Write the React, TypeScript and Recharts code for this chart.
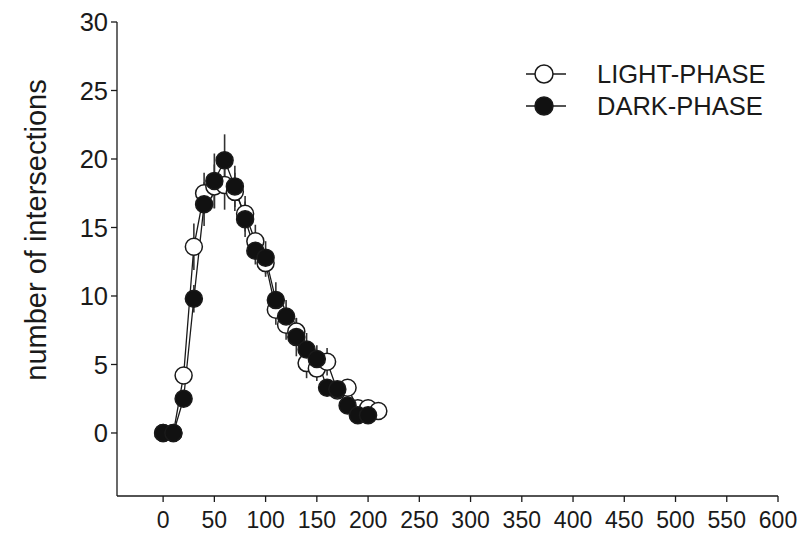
import { LineChart, Line, XAxis, YAxis, Legend, ErrorBar } from 'recharts';

// distance from soma (µm)
const distances = [0, 10, 20, 30, 40, 50, 60, 70, 80, 90, 100, 110, 120, 130, 140, 150, 160, 170, 180, 190, 200, 210];

const lightPhase = [0, 0, 4.2, 13.6, 17.5, 18.0, 18.1, 17.6, 16.0, 14.0, 12.4, 9.0, 7.9, 7.4, 5.1, 4.7, 5.2, 3.1, 3.3, 1.8, 1.8, 1.6];
const lightErr = [0, 0, 0.6, 1.7, 1.5, 1.6, 1.8, 1.4, 1.3, 1.2, 1.0, 1.1, 1.1, 1.0, 1.1, 0.9, 1.0, 0.6, 0.6, 0.4, 0.3, 0.3];

const darkPhase = [0, 0, 2.5, 9.8, 16.7, 18.4, 19.9, 18.0, 15.6, 13.3, 12.8, 9.7, 8.5, 7.0, 6.1, 5.4, 3.3, 3.2, 2.0, 1.3, 1.3];
const darkErr = [0, 0, 0.5, 1.0, 1.6, 2.0, 1.9, 1.5, 1.3, 1.0, 1.2, 1.3, 1.2, 1.4, 1.2, 1.0, 0.6, 0.5, 0.5, 0.4, 0.3];

const xTicks = [0, 50, 100, 150, 200, 250, 300, 350, 400, 450, 500, 550, 600];
const yTicks = [0, 5, 10, 15, 20, 25, 30];

const series = [
  { key: 'light', name: 'LIGHT-PHASE', fill: '#ffffff' },
  { key: 'dark', name: 'DARK-PHASE', fill: '#111111' }
];

const INK = '#1a1a1a';
const SANS = '"Liberation Sans", Arial, sans-serif';
const NARROW = '"Liberation Sans Narrow", "Arial Narrow", "Liberation Sans", sans-serif';

function LegendBox() {
  return (
    <div style={{ fontFamily: SANS, fontSize: 25.5, color: INK, lineHeight: '32px' }}>
      {series.map(s => (
        <div key={s.key} style={{ display: 'flex', alignItems: 'center', height: 32 }}>
          <svg width={44} height={24} style={{ marginRight: 29 }}>
            <line x1={2} y1={12} x2={42} y2={12} stroke={INK} strokeWidth={1.4} />
            <circle cx={20} cy={12} r={9} fill={s.fill} stroke={INK} strokeWidth={1.5} />
          </svg>
          <span>{s.name}</span>
        </div>
      ))}
    </div>
  );
}

export default function App() {
  const data = distances.map((d, i) => ({
    x: d,
    light: lightPhase[i],
    lightErr: lightErr[i],
    dark: i < darkPhase.length ? darkPhase[i] : null,
    darkErr: i < darkErr.length ? darkErr[i] : null
  }));

  return (
    <div style={{ position: 'absolute', left: 0, top: 0, width: 801, height: 535, background: '#fff' }}>
      <LineChart width={801} height={535} data={data} margin={{ top: 22, right: 23, bottom: 0, left: 0 }}>
        <XAxis
          type="number"
          dataKey="x"
          domain={[-45, 600]}
          ticks={xTicks}
          allowDataOverflow
          height={39}
          stroke={INK}
          strokeWidth={1.3}
          tickSize={6}
          tickMargin={10}
          tick={{ fill: INK, fontSize: 23, fontFamily: NARROW }}
        />
        <YAxis
          type="number"
          domain={[-4.6, 30]}
          ticks={yTicks}
          allowDataOverflow
          width={117}
          stroke={INK}
          strokeWidth={1.3}
          tickSize={6}
          tickMargin={3}
          tick={{ fill: INK, fontSize: 25.5, fontFamily: SANS }}
          label={() => (
            <text
              x={36}
              y={230}
              transform="rotate(-90, 36, 230)"
              textAnchor="middle"
              dominantBaseline="central"
              fill={INK}
              fontSize={29}
              fontFamily={SANS}
            >
              number of intersections
            </text>
          )}
        />
        <Legend
          layout="horizontal"
          verticalAlign="middle"
          align="center"
          content={() => <LegendBox />}
          wrapperStyle={{ position: 'absolute', left: 524, top: 58, width: 270 }}
        />
        <Line
          dataKey="light"
          name="LIGHT-PHASE"
          type="linear"
          stroke={INK}
          strokeWidth={1.3}
          dot={{ r: 8.5, fill: '#ffffff', stroke: INK, strokeWidth: 1.5 }}
          activeDot={false}
          isAnimationActive={false}
        >
          <ErrorBar dataKey="lightErr" direction="y" width={0} stroke="#333" strokeWidth={1.6} isAnimationActive={false} />
        </Line>
        <Line
          dataKey="dark"
          name="DARK-PHASE"
          type="linear"
          stroke={INK}
          strokeWidth={1.3}
          dot={{ r: 8.5, fill: '#111111', stroke: INK, strokeWidth: 1.5 }}
          activeDot={false}
          isAnimationActive={false}
        >
          <ErrorBar dataKey="darkErr" direction="y" width={0} stroke="#333" strokeWidth={1.6} isAnimationActive={false} />
        </Line>
      </LineChart>
    </div>
  );
}
